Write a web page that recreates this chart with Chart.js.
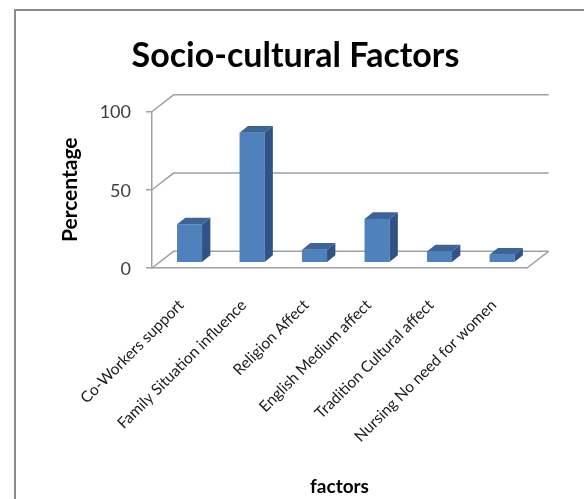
<!DOCTYPE html>
<html>
<head>
<meta charset="utf-8">
<title>Socio-cultural Factors</title>
<script src="https://cdn.jsdelivr.net/npm/chart.js@4.4.1/dist/chart.umd.min.js"></script>
<style>
  html, body { margin: 0; padding: 0; background: #fff; }
  #wrap { position: relative; width: 584px; height: 499px; }
</style>
</head>
<body>
<div id="wrap"><canvas id="factorChart"></canvas></div>
<script>
// Chart data
const categories = [
    "Co-Workers support",
    "Family Situation influence",
    "Religion Affect",
    "English Medium affect",
    "Tradition Cultural affect",
    "Nursing No need for women"
];
const percentages = [24.5, 83, 8.3, 28, 7.2, 5.1];
const yTicks = [0, 50, 100];

// 3D look (offsets in pixels)
const WALL_DX = 21.6, WALL_DY = -16.7;  // back wall behind the front plane
const BAR_DX = 6.3, BAR_DY = -5.3;      // bars stand a little back from the front edge
const SIDE_DX = 8.3, SIDE_DY = -6.7;    // depth of each bar
const gridColor = "#a0a0a0";
const frontColor = "#4f81bd";
const topColor = "#3c6499";
const sideColor = "#2f5386";

Chart.defaults.font.family = "Lato";

// grey frame round the chart
const framePlugin = {
    id: "frame",
    beforeDraw(chart) {
        const ctx = chart.ctx;
        ctx.save();
        ctx.strokeStyle = "#8c8c8c";
        ctx.lineWidth = 2;
        ctx.beginPath();
        ctx.moveTo(15, chart.height + 2);
        ctx.lineTo(15, 10);
        ctx.lineTo(chart.width + 2, 10);
        ctx.stroke();
        ctx.restore();
    }
};

// back wall, side wall and floor, then the 3D faces of the bars
const depthPlugin = {
    id: "depth",
    beforeDatasetsDraw(chart) {
        const ctx = chart.ctx;
        const area = chart.chartArea;
        const yScale = chart.scales.y;

        ctx.save();
        ctx.strokeStyle = gridColor;
        ctx.lineWidth = 1.5;
        ctx.beginPath();
        yScale.ticks.forEach((t) => {
            const y = yScale.getPixelForValue(t.value);
            ctx.moveTo(area.left, y);
            ctx.lineTo(area.left + WALL_DX, y + WALL_DY);
            ctx.lineTo(area.right + WALL_DX, y + WALL_DY);
        });
        // right edge of the floor
        ctx.moveTo(area.right, area.bottom);
        ctx.lineTo(area.right + WALL_DX, area.bottom + WALL_DY);
        ctx.stroke();
        ctx.restore();

        // push the bars back into the box
        ctx.save();
        ctx.translate(BAR_DX, BAR_DY);
    },
    afterDatasetsDraw(chart) {
        const ctx = chart.ctx;
        ctx.restore();

        const meta = chart.getDatasetMeta(0);
        ctx.save();
        meta.data.forEach((bar) => {
            const p = bar.getProps(["x", "y", "base", "width"], true);
            const l = p.x - p.width / 2 + BAR_DX;
            const r = p.x + p.width / 2 + BAR_DX;
            const t = p.y + BAR_DY;
            const b = p.base + BAR_DY;

            // top face
            ctx.fillStyle = topColor;
            ctx.beginPath();
            ctx.moveTo(l, t);
            ctx.lineTo(r, t);
            ctx.lineTo(r + SIDE_DX, t + SIDE_DY);
            ctx.lineTo(l + SIDE_DX, t + SIDE_DY);
            ctx.closePath();
            ctx.fill();

            // side face
            ctx.fillStyle = sideColor;
            ctx.beginPath();
            ctx.moveTo(r, t);
            ctx.lineTo(r + SIDE_DX, t + SIDE_DY);
            ctx.lineTo(r + SIDE_DX, b + SIDE_DY);
            ctx.lineTo(r, b);
            ctx.closePath();
            ctx.fill();
        });
        ctx.restore();
    }
};

document.addEventListener("DOMContentLoaded", function () {
    new Chart(document.getElementById("factorChart"), {
        type: "bar",
        data: {
            labels: categories,
            datasets: [
                {
                    label: "Percentage",
                    data: percentages,
                    backgroundColor: frontColor,
                    borderWidth: 0,
                    categoryPercentage: 0.4,
                    barPercentage: 1
                }
            ]
        },
        options: {
            responsive: true,
            maintainAspectRatio: false,
            animation: false,
            layout: { padding: { left: 64, right: 57, top: 0, bottom: 0 } },
            plugins: {
                legend: { display: false },
                tooltip: { enabled: false },
                title: {
                    display: true,
                    text: "Socio-cultural Factors",
                    color: "#000",
                    font: { size: 34, weight: "bold", lineHeight: 1.2 },
                    padding: { top: 35.6, bottom: 35.1 }
                }
            },
            scales: {
                x: {
                    offset: true,
                    grid: { drawOnChartArea: false, drawTicks: false },
                    border: { color: gridColor, width: 1.5 },
                    ticks: {
                        autoSkip: false,
                        minRotation: 45,
                        maxRotation: 45,
                        padding: 28,
                        labelOffset: -2,
                        color: "#1a1a1a",
                        font: { size: 15.5 }
                    },
                    title: {
                        display: true,
                        text: "factors",
                        color: "#000",
                        font: { size: 19, weight: "bold", lineHeight: 1.2 },
                        padding: { top: 0, bottom: 1 }
                    },
                    afterFit(scale) { scale.height = 231; }
                },
                y: {
                    min: 0,
                    max: 100,
                    afterBuildTicks(scale) {
                        scale.ticks = yTicks.map((v) => ({ value: v }));
                    },
                    grid: { drawOnChartArea: false, drawTicks: true, tickLength: 6, color: gridColor, lineWidth: 1.5 },
                    border: { color: gridColor, width: 1.5 },
                    ticks: {
                        padding: 15,
                        labelOffset: 1,
                        color: "#404040",
                        font: { size: 18 }
                    },
                    title: {
                        display: true,
                        text: "Percentage",
                        color: "#000",
                        font: { size: 21, weight: "bold", lineHeight: 0.62 },
                        padding: { top: 0, bottom: 0 }
                    },
                    afterFit(scale) { scale.width = 88; }
                }
            }
        },
        plugins: [framePlugin, depthPlugin]
    });
});
</script>
</body>
</html>
